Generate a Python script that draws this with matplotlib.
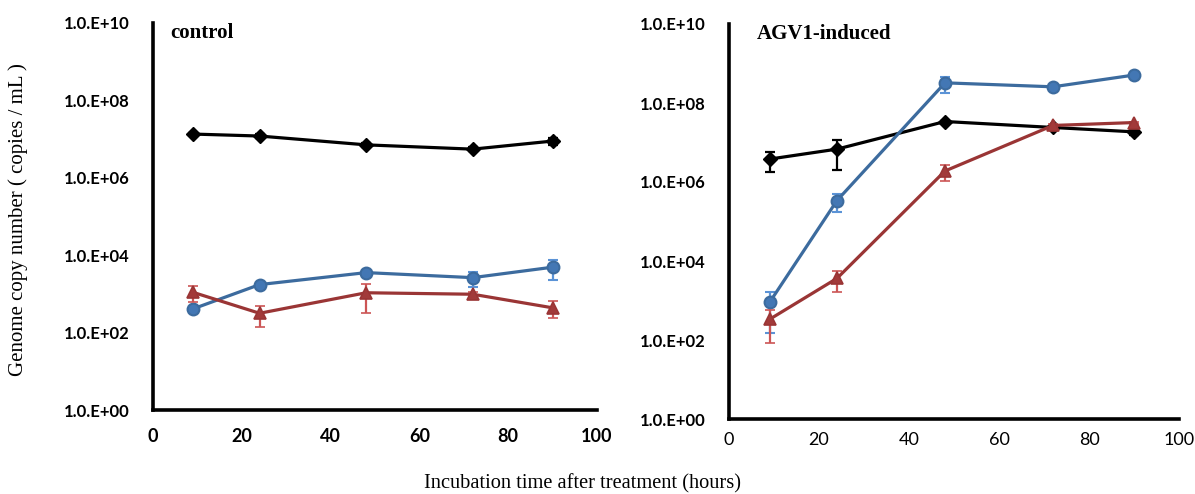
import matplotlib
matplotlib.use("Agg")
import matplotlib.pyplot as plt
import numpy as np

hours = [9, 24, 48, 72, 90]

# control panel
ctrl_black = [1.35e7, 1.2e7, 7.1e6, 5.5e6, 8.9e6]
ctrl_black_err = [1.0e6, 1.5e6, 1.0e6, 0.6e6, 2.0e6]
ctrl_blue = [410, 1740, 3550, 2630, 4900]
ctrl_blue_err = [0, 0, 700, 1100, 2600]
ctrl_red = [1100, 316, 1070, 980, 437]
ctrl_red_err = [500, 180, 750, 120, 200]

# AGV1-induced panel
agv_black = [3.8e6, 6.8e6, 3.4e7, 2.4e7, 1.86e7]
agv_black_err = [2.0e6, 4.8e6, 2.0e6, 2.5e6, 3.5e6]
agv_blue = [890, 3.4e5, 3.24e8, 2.57e8, 5.1e8]
agv_blue_err = [740, 1.7e5, 1.4e8, 0, 0]
agv_red = [333, 3640, 1.9e6, 2.7e7, 3.2e7]
agv_red_err = [250, 2000, 0.85e6, 3.0e6, 2.0e6]

yticks = [1e0, 1e2, 1e4, 1e6, 1e8, 1e10]
ytick_labels = ["1.0.E+00", "1.0.E+02", "1.0.E+04", "1.0.E+06", "1.0.E+08", "1.0.E+10"]
xticks = [0, 20, 40, 60, 80, 100]
titles = ["control", "AGV1-induced"]

BLACK = "#000000"
BLUE = "#3C6B9E"
BLUE_FACE = "#4377B4"
BLUE_ERR = "#5B93D6"
RED = "#9A3535"
RED_FACE = "#A23A3A"
RED_ERR = "#CC5555"

fig = plt.figure(figsize=(11.95, 4.94), dpi=100)
ax1 = fig.add_axes([153/1195, 84/494, 444/1195, 387/494])
ax2 = fig.add_axes([729/1195, 75/494, 450/1195, 395/494])

panels = [
    (ax1, ctrl_black, ctrl_black_err, ctrl_blue, ctrl_blue_err, ctrl_red, ctrl_red_err, "bold", 13, 0.038),
    (ax2, agv_black, agv_black_err, agv_blue, agv_blue_err, agv_red, agv_red_err, "normal", 9, 0.062),
]

for i, (ax, bk, bke, bl, ble, rd, rde, xw, xpad, tx) in enumerate(panels):
    ax.set_yscale("log")
    ax.set_ylim(1, 1e10)
    ax.set_xlim(0, 100)
    # black diamonds
    ax.errorbar(hours, bk, yerr=bke, color=BLACK, lw=2.3, marker="D", ms=7.5,
                mfc=BLACK, mec=BLACK, ecolor=BLACK, elinewidth=1.6, capsize=3.5,
                capthick=1.6, zorder=3)
    # blue circles
    ax.errorbar(hours, bl, yerr=ble, color=BLUE, lw=2.3, marker="o", ms=8.5,
                mfc=BLUE_FACE, mec=BLUE, mew=1.5, ecolor=BLUE_ERR, elinewidth=1.6,
                capsize=3.5, capthick=1.6, zorder=4)
    # red triangles
    ax.errorbar(hours, rd, yerr=rde, color=RED, lw=2.3, marker="^", ms=8,
                mfc=RED_FACE, mec=RED, mew=1.2, ecolor=RED_ERR, elinewidth=1.6,
                capsize=3.5, capthick=1.6, zorder=5)

    for s in ["top", "right"]:
        ax.spines[s].set_visible(False)
    for s in ["left", "bottom"]:
        ax.spines[s].set_linewidth(2.6)
        ax.spines[s].set_color("black")
    ax.set_yticks(yticks)
    ax.set_yticklabels(ytick_labels, fontfamily="Lato", fontweight="bold", fontsize=12)
    ax.yaxis.set_minor_locator(matplotlib.ticker.NullLocator())
    ax.set_xticks(xticks)
    ax.set_xticklabels([str(t) for t in xticks], fontfamily="Lato", fontweight=xw, fontsize=13)
    ax.tick_params(axis="both", length=0)
    ax.tick_params(axis="y", pad=17)
    ax.tick_params(axis="x", pad=xpad)
    ax.text(tx, 1.0, titles[i], transform=ax.transAxes, ha="left", va="top",
            fontfamily="Liberation Serif", fontweight="bold", fontsize=15)

fig.text(18/1195, 1 - 220/494, "Genome copy number ( copies / mL )", rotation=90,
         ha="center", va="center", fontfamily="Liberation Serif", fontsize=15)
fig.text(583/1195, 1 - 484/494, "Incubation time after treatment (hours)",
         ha="center", va="center", fontfamily="Liberation Serif", fontsize=14.7)

fig.savefig("out.png", dpi=100)
